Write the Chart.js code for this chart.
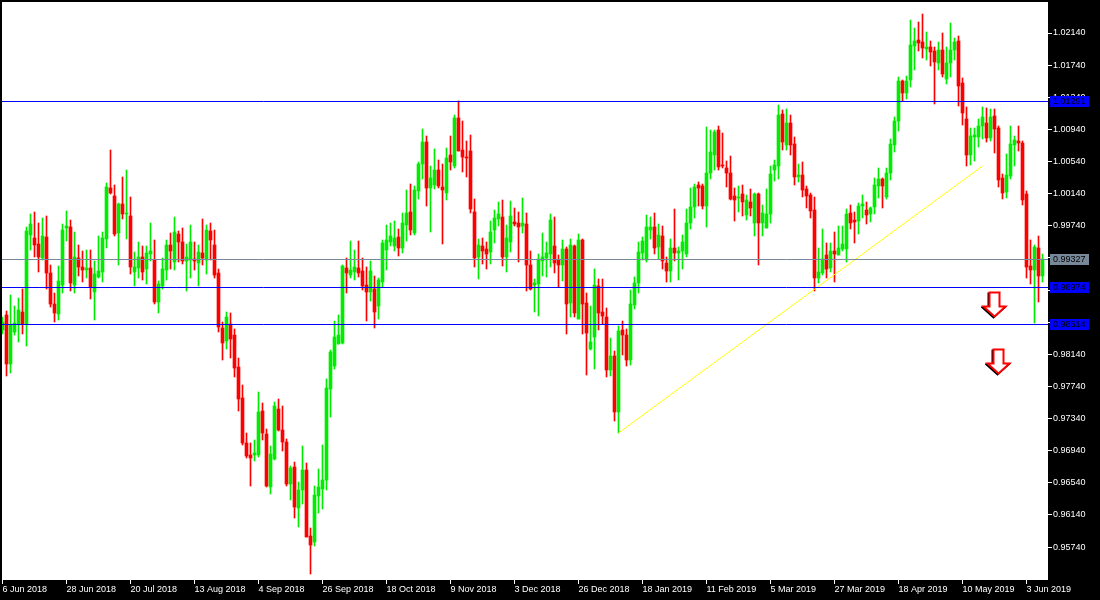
<!DOCTYPE html>
<html>
<head>
<meta charset="utf-8">
<title>Candles</title>
<script src="https://cdn.jsdelivr.net/npm/chart.js@4/dist/chart.umd.js"></script>
<style>
  html, body { margin: 0; padding: 0; background: #000; overflow: hidden; }
  canvas { display: block; }
</style>
</head>
<body>
<canvas id="chart" width="1100" height="600"></canvas>
<script>
// daily candles
const highs = [
0.98605,0.98680,0.98879,0.98741,0.98841,0.98953,0.99725,0.99887,0.99912,0.99775,
0.99837,0.99862,0.99252,0.98904,0.99239,0.99762,0.99925,0.99812,0.99663,0.99501,
0.99427,0.99439,0.99439,0.99302,0.99613,0.99663,1.00273,1.00684,1.00248,1.00024,
1.00347,1.00435,1.00098,0.99414,0.99538,0.99488,0.99488,0.99775,0.99563,0.99053,
0.99339,0.99563,0.99650,0.99850,0.99676,0.99713,0.99513,0.99750,0.99538,0.99501,
0.99824,0.99750,0.99775,0.99688,0.99202,0.98542,0.98667,0.98655,0.98455,0.98094,
0.97758,0.97161,0.97036,0.97073,0.97671,0.97534,0.97210,0.96999,0.97546,0.97584,
0.97496,0.97085,0.96749,0.96799,0.96550,0.96999,0.96787,0.95977,0.96500,0.96712,
0.97011,0.97832,0.98194,0.98555,0.98630,0.99252,0.99339,0.99551,0.99439,0.99551,
0.99339,0.99227,0.99302,0.99115,0.99090,0.99563,0.99750,0.99775,0.99800,0.99700,
0.99900,1.00186,1.00261,1.00236,1.00534,1.00945,1.00858,1.00484,1.00696,1.00559,
1.00509,1.00709,1.00858,1.01119,1.01294,1.01045,1.00796,1.00871,1.00074,0.99575,
0.99588,0.99538,0.99800,0.99937,1.00036,1.00061,0.99750,1.00049,0.99961,0.99912,
1.00086,0.99900,0.99427,0.99078,0.99389,0.99650,0.99538,0.99887,0.99850,0.99377,
0.99563,0.99476,0.99575,0.99501,0.99638,0.99575,0.98904,0.98741,0.99202,0.99078,
0.99078,0.98716,0.98343,0.98182,0.98492,0.98555,0.98455,0.98941,0.99103,0.99538,
0.99601,0.99875,0.99850,0.99900,0.99762,0.99737,0.99352,0.99575,0.99949,0.99476,
0.99626,0.99949,1.00211,1.00261,1.00285,1.00261,1.00970,1.00933,1.00933,1.00982,
1.00895,1.00546,1.00609,1.00211,1.00236,1.00248,1.00123,1.00198,1.00149,1.00149,
0.99999,1.00198,1.00484,1.00559,1.01244,1.01182,1.01194,1.01119,1.00846,1.00509,
1.00534,1.00236,1.00149,1.00098,0.99464,0.99700,0.99526,0.99526,0.99663,0.99737,
0.99737,0.99949,0.99999,0.99912,1.00024,1.00123,1.00036,0.99974,1.00335,1.00459,
1.00335,1.00459,1.00820,1.01094,1.01592,1.01555,1.01605,1.02302,1.02202,1.02277,
1.02377,1.02153,1.02041,1.01966,1.02028,1.02140,1.01966,1.02265,1.02078,1.02103,
1.01580,1.01219,1.00957,1.00957,1.01069,1.01219,1.01206,1.01194,1.01194,1.00982,
1.00385,1.00634,1.00982,1.00858,1.00982,1.00796,1.00174,0.99563,0.99501,0.99613,
0.99389];
const lows = [
0.98393,0.97870,0.97908,0.98381,0.98293,0.98393,0.98243,0.99439,0.99352,0.99165,
0.99314,0.98953,0.98729,0.98542,0.98567,0.98904,0.99551,0.98929,0.98904,0.99115,
0.99040,0.99090,0.98829,0.98567,0.99090,0.99040,0.99464,1.00136,0.99613,0.99252,
0.99824,0.99575,0.99140,0.98990,0.99090,0.99065,0.99015,0.99302,0.98766,0.98655,
0.98953,0.99065,0.99202,0.99190,0.99289,0.99264,0.98929,0.99090,0.99190,0.98990,
0.99252,0.99140,0.99314,0.99090,0.98418,0.98069,0.98206,0.98094,0.97858,0.97435,
0.97011,0.96849,0.96500,0.96812,0.96862,0.97073,0.96488,0.96401,0.96824,0.97186,
0.96937,0.96500,0.96326,0.96102,0.95990,0.96276,0.95866,0.95405,0.95753,0.96165,
0.96214,0.96451,0.97360,0.97957,0.98268,0.98268,0.98904,0.99090,0.99065,0.99103,
0.98941,0.98555,0.98804,0.98468,0.98580,0.98978,0.99190,0.99488,0.99427,0.99364,
0.99402,0.99551,0.99626,0.99626,1.00074,1.00322,0.99986,0.99663,1.00198,1.00211,
0.99513,1.00061,1.00435,1.00459,1.00671,1.00410,1.00347,0.99900,0.99227,0.99078,
0.99264,0.99202,0.99264,0.99526,0.99737,0.99239,0.99165,0.99414,0.99737,0.99289,
0.99650,0.98929,0.98941,0.98667,0.98617,0.99115,0.99103,0.99227,0.99153,0.98978,
0.99053,0.98393,0.98605,0.98605,0.98580,0.98393,0.97883,0.98194,0.97957,0.98443,
0.98517,0.97858,0.97870,0.97310,0.97161,0.98132,0.97994,0.98007,0.98704,0.98904,
0.99314,0.99289,0.99575,0.99389,0.99327,0.99202,0.99040,0.99040,0.99302,0.99065,
0.99202,0.99352,0.99700,0.99837,0.99986,0.99949,0.99725,1.00322,1.00435,1.00435,
1.00459,1.00223,1.00061,0.99800,0.99912,0.99862,0.99812,0.99862,0.99613,0.99252,
0.99613,0.99713,0.99775,1.00298,1.00322,1.00684,1.00684,1.00621,1.00248,1.00285,
1.00098,0.99961,0.99837,0.98929,0.99028,0.99128,0.99090,0.99165,0.99040,0.99377,
0.99427,0.99289,0.99700,0.99526,0.99638,0.99837,0.99762,0.99787,0.99887,1.00086,
0.99961,1.00074,1.00310,1.00659,1.00920,1.01294,1.01319,1.01468,1.01680,1.01916,
1.01829,1.01804,1.01729,1.01256,1.01680,1.01592,1.01505,1.01592,1.01804,1.01231,
1.00995,1.00484,1.00497,1.00546,1.00721,1.00820,1.00783,1.00796,1.00646,1.00223,
1.00074,1.00086,1.00322,1.00484,1.00671,0.99999,0.99090,0.99015,0.98530,0.98791,
0.99040];
const opens = [
0.98443,0.98630,0.98019,0.98418,0.98517,0.98667,0.98517,0.99626,0.99588,0.99513,
0.99339,0.99601,0.99153,0.98766,0.98642,0.99003,0.99713,0.99725,0.99003,0.99339,
0.99227,0.99190,0.99214,0.98916,0.99103,0.99165,0.99575,1.00211,1.00111,0.99650,
1.00011,0.99887,0.99862,0.99165,0.99214,0.99352,0.99202,0.99389,0.99314,0.98791,
0.98990,0.99190,0.99501,0.99289,0.99638,0.99538,0.99302,0.99314,0.99327,0.99277,
0.99402,0.99314,0.99676,0.99501,0.99153,0.98468,0.98306,0.98517,0.98381,0.97982,
0.97596,0.97036,0.96887,0.96887,0.96887,0.97435,0.97148,0.96488,0.96837,0.97459,
0.97198,0.97048,0.96525,0.96737,0.96227,0.96451,0.96700,0.95878,0.95803,0.96376,
0.96463,0.96575,0.97708,0.97994,0.98268,0.98281,0.99214,0.99128,0.99165,0.99214,
0.99178,0.99003,0.98916,0.98953,0.98741,0.99040,0.99439,0.99538,0.99488,0.99601,
0.99464,0.99750,0.99912,0.99650,1.00174,1.00509,1.00783,1.00211,1.00248,1.00435,
1.00223,1.00149,1.00621,1.00484,1.01082,1.00684,1.00596,1.00671,0.99912,0.99352,
0.99488,0.99451,0.99414,0.99688,0.99824,0.99850,0.99352,0.99538,0.99787,0.99775,
0.99737,0.99762,0.99252,0.99003,0.99015,0.99302,0.99339,0.99389,0.99488,0.99314,
0.99252,0.99451,0.98779,0.99488,0.98580,0.99563,0.98779,0.98206,0.98356,0.98990,
0.98667,0.98605,0.97945,0.98119,0.97422,0.98443,0.98381,0.98069,0.98754,0.99028,
0.99402,0.99314,0.99688,0.99725,0.99476,0.99613,0.99277,0.99178,0.99464,0.99402,
0.99427,0.99389,0.99775,0.99974,1.00248,1.00236,0.99986,1.00397,1.00621,1.00933,
1.00497,1.00459,1.00397,1.00111,1.00086,1.00136,0.99875,1.00036,0.99775,1.00136,
0.99775,0.99713,0.99887,1.00435,1.00484,1.01132,1.00746,1.01020,1.00758,1.00347,
1.00372,1.00198,1.00123,0.99937,0.99090,0.99153,0.99377,0.99214,0.99427,0.99377,
0.99451,0.99451,0.99900,0.99812,0.99800,0.99986,0.99937,0.99887,0.99974,1.00236,
1.00322,1.00098,1.00397,1.00746,1.01045,1.01543,1.01393,1.01555,1.01979,1.02053,
1.02028,1.01941,1.01966,1.01916,1.01767,1.01929,1.01568,1.01767,1.01929,1.02041,
1.01518,1.01069,1.00621,1.00846,1.00846,1.00982,1.01020,1.00833,1.01107,1.00957,
1.00335,1.00161,1.00360,1.00746,1.00796,1.00771,1.00136,0.99239,0.99190,0.99464,
0.99115];
const closes = [
0.98542,0.98019,0.98505,0.98530,0.98692,0.98517,0.99676,0.99762,0.99501,0.99352,
0.99613,0.99153,0.98766,0.98655,0.99053,0.99688,0.99737,0.99028,0.99352,0.99227,
0.99190,0.99214,0.98978,0.99140,0.99178,0.99588,1.00223,1.00149,0.99638,1.00011,
0.99887,0.99900,0.99227,0.99227,0.99352,0.99165,0.99402,0.99427,0.98791,0.99015,
0.99202,0.99501,0.99427,0.99663,0.99538,0.99302,0.99352,0.99538,0.99302,0.99414,
0.99339,0.99688,0.99563,0.99128,0.98480,0.98281,0.98605,0.98331,0.97969,0.97584,
0.97036,0.96874,0.96849,0.96912,0.97422,0.97161,0.96500,0.96899,0.97496,0.97198,
0.97048,0.96525,0.96724,0.96239,0.96451,0.96700,0.95866,0.95766,0.96389,0.96488,
0.96575,0.97720,0.98169,0.98356,0.98381,0.99239,0.99153,0.99190,0.99227,0.99153,
0.98990,0.98916,0.99178,0.98667,0.99065,0.99526,0.99563,0.99613,0.99588,0.99464,
0.99775,0.99900,0.99688,1.00186,1.00509,1.00783,1.00211,1.00335,1.00435,1.00236,
1.00186,1.00584,1.00534,1.01082,1.00671,1.00596,1.00584,0.99949,0.99339,0.99501,
0.99427,0.99389,0.99663,0.99837,0.99887,0.99352,0.99588,0.99862,0.99762,0.99725,
0.99775,0.99252,0.98953,0.99028,0.99327,0.99352,0.99402,0.99812,0.99277,0.99252,
0.99451,0.98766,0.99501,0.98655,0.99563,0.98766,0.98406,0.98293,0.99003,0.98655,
0.98617,0.97945,0.98119,0.97422,0.98430,0.98381,0.98069,0.98766,0.99028,0.99414,
0.99551,0.99725,0.99725,0.99464,0.99626,0.99302,0.99178,0.99464,0.99402,0.99427,
0.99538,0.99775,0.99974,1.00223,1.00211,0.99986,1.00397,1.00659,1.00908,1.00472,
1.00484,1.00397,1.00074,1.00061,1.00098,1.00036,1.00061,0.99961,1.00136,0.99775,
0.99900,0.99887,1.00385,1.00497,1.01119,1.00783,1.01020,1.00746,1.00347,1.00372,
1.00186,1.00111,0.99925,0.99090,0.99165,0.99327,0.99202,0.99427,0.99389,0.99464,
0.99513,0.99887,0.99775,0.99787,0.99986,1.00011,0.99875,0.99961,1.00248,1.00322,
1.00236,1.00397,1.00758,1.01045,1.01543,1.01393,1.01543,1.01991,1.02041,1.02016,
1.01954,1.01966,1.01904,1.01779,1.01929,1.01630,1.01767,1.01929,1.02028,1.01480,
1.01144,1.00621,1.00858,1.00871,1.00982,1.01094,1.00833,1.01094,1.00945,1.00310,
1.00149,1.00372,1.00758,1.00808,1.00771,1.00061,0.99227,0.99190,0.99476,0.99115,
0.99327];

// axis labels, one every 16 candles
const dateLabels = ['6 Jun 2018','28 Jun 2018','20 Jul 2018','13 Aug 2018','4 Sep 2018','26 Sep 2018','18 Oct 2018','9 Nov 2018','3 Dec 2018','26 Dec 2018','18 Jan 2019','11 Feb 2019','5 Mar 2019','27 Mar 2019','18 Apr 2019','10 May 2019','3 Jun 2019'];
const dateTickIndex = [0,16,32,48,64,80,96,112,128,144,160,176,192,208,224,240,256];
const priceTicks = [1.0214,1.0174,1.0134,1.0094,1.0054,1.0014,0.9974,0.9934,0.9894,0.9854,0.9814,0.9774,0.9734,0.9694,0.9654,0.9614,0.9574];

// horizontal levels, bid line and the trend line
const levelValues = [1.01291,0.98974,0.98514];
const bidValue = 0.99327;
const trendIndex = [154,245];
const trendPrice = [0.97161,1.00484];

// the two down arrows
const arrowIndex = [248,249];
const arrowPrice = [0.98748,0.98038];

const GREEN = '#00ec00', RED = '#ff0000', BLUE = '#0000ff', GREY = '#778899';
const X_MIN = -0.125, X_MAX = 261.375;
const FONT = '9px "Liberation Sans"';

const isUp = i => closes[i] >= opens[i];
const candleColors = closes.map((c, i) => isUp(i) ? GREEN : RED);

// small red/white arrow used as a point image
function makeArrow() {
    const c = document.createElement('canvas');
    c.width = 27;
    c.height = 28;
    const g = c.getContext('2d');
    const outline = (dx, dy) => {
        g.beginPath();
        g.moveTo(8.5 + dx, 1.5 + dy);
        g.lineTo(18.5 + dx, 1.5 + dy);
        g.lineTo(18.5 + dx, 15.5 + dy);
        g.lineTo(24.5 + dx, 15.5 + dy);
        g.lineTo(13.5 + dx, 25.5 + dy);
        g.lineTo(2.5 + dx, 15.5 + dy);
        g.lineTo(8.5 + dx, 15.5 + dy);
        g.closePath();
    };
    g.lineWidth = 2;
    g.strokeStyle = '#000';
    outline(-1, 1);
    g.stroke();
    g.lineWidth = 2;
    g.strokeStyle = RED;
    g.fillStyle = '#fff';
    outline(0, 0);
    g.fill();
    g.stroke();
    return c;
}

const levelLine = (v, color) => ({
    type: 'line',
    data: [{x: X_MIN, y: v}, {x: X_MAX, y: v}],
    borderColor: color,
    borderWidth: 1,
    pointRadius: 0,
    order: 0,
    snap: 0.5
});

// plot background, crisp marks and the price tags on the axis
const mt4Plugin = {
    id: 'mt4',
    beforeDraw(chart) {
        const a = chart.chartArea;
        chart.ctx.fillStyle = '#fff';
        chart.ctx.fillRect(a.left, a.top, a.right - a.left, a.bottom - a.top);
    },
    beforeDatasetDraw(chart, args) {
        const ds = chart.data.datasets[args.index];
        args.meta.data.forEach(el => {
            if (ds.type === 'bar') {
                el.y = Math.round(el.y);
                el.base = Math.round(el.base);
            } else if (ds.snap !== undefined) {
                el.y = Math.round(el.y) + ds.snap;
            }
        });
    },
    afterDraw(chart) {
        const ctx = chart.ctx, y = chart.scales.y;
        const tag = (v, bg) => {
            const py = Math.round(y.getPixelForValue(v));
            ctx.fillStyle = bg;
            ctx.fillRect(1050, py - 5, 39, 11);
            ctx.fillStyle = '#000';
            ctx.font = FONT;
            ctx.textAlign = 'left';
            ctx.textBaseline = 'middle';
            ctx.fillText(v.toFixed(5), 1053, py + 1);
        };
        levelValues.forEach(v => tag(v, BLUE));
        tag(bidValue, GREY);
    }
};

new Chart(document.getElementById('chart').getContext('2d'), {
    type: 'bar',
    data: {
        datasets: [
            ...levelValues.map(v => levelLine(v, BLUE)),
            levelLine(bidValue, GREY),
            {
                type: 'line',
                data: trendIndex.map((x, i) => ({x, y: trendPrice[i]})),
                borderColor: '#ffff00',
                borderWidth: 1,
                pointRadius: 0,
                order: 0
            },
            {
                type: 'line',
                showLine: false,
                data: arrowIndex.map((x, i) => ({x, y: arrowPrice[i]})),
                pointStyle: makeArrow(),
                pointRadius: 13,
                order: 0,
                snap: 0
            },
            {
                type: 'bar',
                data: closes.map((c, i) => ({x: i, y: [opens[i], c]})),
                backgroundColor: candleColors,
                barThickness: 3,
                minBarLength: 1,
                grouped: false,
                order: 1
            },
            {
                type: 'bar',
                data: highs.map((h, i) => ({x: i, y: [lows[i], h]})),
                backgroundColor: candleColors,
                barThickness: 1,
                grouped: false,
                order: 2
            }
        ]
    },
    options: {
        responsive: false,
        animation: false,
        layout: {autoPadding: false, padding: {top: 2, left: 2, right: 0, bottom: 0}},
        plugins: {legend: {display: false}, tooltip: {enabled: false}},
        scales: {
            x: {
                type: 'linear',
                min: X_MIN,
                max: X_MAX,
                offset: false,
                afterFit(s) { s.height = 20; s.paddingLeft = 0; s.paddingRight = 0; },
                afterBuildTicks(s) { s.ticks = dateTickIndex.map(v => ({value: v})); },
                border: {display: false},
                grid: {offset: false, drawOnChartArea: false, tickLength: 4, tickColor: '#fff'},
                ticks: {
                    color: '#fff',
                    font: {family: 'Liberation Sans', size: 9},
                    autoSkip: false,
                    maxRotation: 0,
                    minRotation: 0,
                    align: 'start',
                    padding: 0,
                    callback: v => dateLabels[dateTickIndex.indexOf(v)]
                }
            },
            y: {
                position: 'right',
                min: 0.9533,
                max: 1.025261,
                afterFit(s) { s.width = 52; s.paddingTop = 0; s.paddingBottom = 0; },
                afterBuildTicks(s) { s.ticks = priceTicks.map(v => ({value: v})); },
                border: {display: false},
                grid: {drawOnChartArea: false, tickLength: 4, tickColor: '#fff'},
                ticks: {
                    color: '#fff',
                    font: {family: 'Liberation Sans', size: 9},
                    autoSkip: false,
                    padding: 1,
                    callback: v => v.toFixed(5)
                }
            }
        }
    },
    plugins: [mt4Plugin]
});
</script>
</body>
</html>
